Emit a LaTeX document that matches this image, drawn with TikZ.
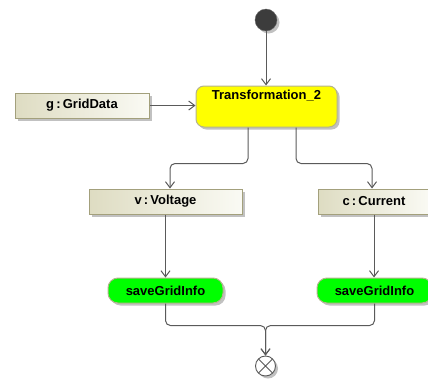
\documentclass[tikz,border=0pt]{standalone}
\usepackage{fontspec}
\setmainfont{Liberation Sans}
\usetikzlibrary{arrows.meta,shadows}
\definecolor{flowline}{HTML}{5A5A5A}
\definecolor{objborder}{HTML}{A3A07C}
\definecolor{objleft}{HTML}{DEDCC2}
\definecolor{objright}{HTML}{FAFAF4}
\definecolor{actborder}{HTML}{B4B38E}
\definecolor{actyellow}{HTML}{FFFF00}
\definecolor{actgreen}{HTML}{00FF00}
\definecolor{initfill}{HTML}{3C3C3C}
\begin{document}
\begin{tikzpicture}[x=1pt,y=-1pt,
  font=\fontsize{13}{15}\selectfont\bfseries,
  shade/.style={drop shadow={shadow xshift=2.5pt,shadow yshift=-2.5pt,fill=black!30,opacity=0.8}},
  objnode/.style={draw=objborder,line width=1pt,left color=objleft,right color=objright,
    minimum height=25pt,inner sep=0pt,shade},
  actnode/.style={draw=actborder,line width=1pt,inner sep=0pt,shade},
  flow/.style={draw=flowline,line width=1pt,-{Straight Barb[length=6pt,width=9pt]}}
]
\useasboundingbox (0,0) rectangle (428,386);

% start and end of the activity
\node[circle,fill=initfill,draw=black!60,minimum size=22pt,inner sep=0pt,shade] (init) at (266,20) {};
\node[circle,fill=white,draw=flowline,line width=0.9pt,minimum size=20pt,inner sep=0pt,shade] (fin) at (265.5,366) {};
\draw[flowline,line width=0.9pt] ([shift={(45:10pt)}]fin.center) -- ([shift={(225:10pt)}]fin.center)
  ([shift={(135:10pt)}]fin.center) -- ([shift={(315:10pt)}]fin.center);

% action
\node[actnode,fill=actyellow,rounded corners=8pt,minimum width=141pt,minimum height=41pt,
  label={[anchor=north,inner sep=0pt,yshift=-4pt]north:Transformation\_2}] (T) at (266.5,106.5) {};

% object nodes
\node[objnode,minimum width=134pt] (g) at (82,105.5) {g\,:\,GridData};
\node[objnode,minimum width=153pt] (v) at (165.5,201.5) {v\,:\,Voltage};
\node[objnode,minimum width=112pt] (c) at (374,201.5) {c\,:\,Current};

% save actions
\node[actnode,fill=actgreen,rounded corners=10pt,minimum width=115pt,minimum height=25pt] (s1) at (165.5,290.5) {saveGridInfo};
\node[actnode,fill=actgreen,rounded corners=10pt,minimum width=115pt,minimum height=25pt] (s2) at (374.5,290.5) {saveGridInfo};

% flows
\draw[flow] (init) -- (T.north -| init);
\draw[flow] (g) -- (T.west |- g);
\draw[flow,rounded corners=5pt] ([xshift=-18.5pt]T.south) -- ++(0,36) -| ([xshift=4.5pt]v.north);
\draw[flow,rounded corners=5pt] ([xshift=29.5pt]T.south) -- ++(0,36) -| ([xshift=-2pt]c.north);
\draw[flow] (v) -- (s1);
\draw[flow] (c.south) -- (s2.north -| c.south);
\draw[flow,rounded corners=5pt] (s1.south) |- ([yshift=30pt]fin.north) -- (fin.north);
\draw[flow,rounded corners=5pt] (s2.south) |- ([yshift=30pt]fin.north) -- (fin.north);
\end{tikzpicture}
\end{document}
